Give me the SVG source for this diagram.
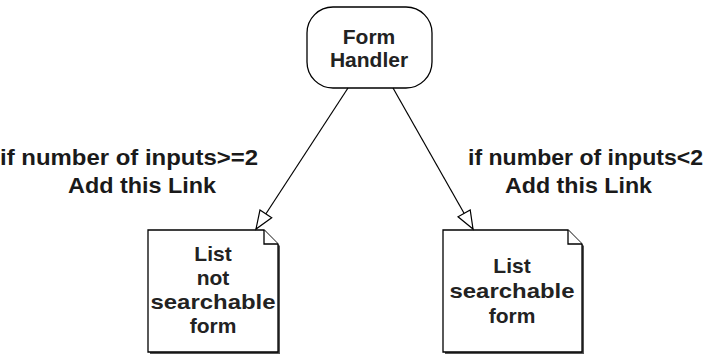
<svg xmlns="http://www.w3.org/2000/svg" width="705" height="354" viewBox="0 0 705 354">
  <style>
    .shape { fill: #ffffff; stroke: #000000; stroke-width: 1.3; }
    .shadow { fill: #555555; }
    .edge { fill: none; stroke: #000000; stroke-width: 1.2; }
    .node-text { font-family: "Liberation Sans", Arial, sans-serif; font-size: 21px; font-weight: bold; fill: #222222; text-anchor: middle; }
    .edge-label { font-family: "Liberation Sans", Arial, sans-serif; font-size: 22px; font-weight: bold; fill: #1a1a1a; }
  </style>
  <defs>
    <marker id="hollow-arrow" markerUnits="userSpaceOnUse" markerWidth="20" markerHeight="16" refX="19" refY="7.5" orient="auto" overflow="visible">
      <path d="M1,0.5 L19,7.5 L1,14.5 Z" fill="#ffffff" stroke="#000000" stroke-width="1.2"/>
    </marker>
  </defs>
  <rect width="705" height="354" fill="#ffffff"/>

  <!-- start node -->
  <g id="form-handler">
    <rect class="shape" x="307" y="7" width="125" height="81" rx="26" ry="26"/>
    <text class="node-text" x="369" y="44">Form</text>
    <text class="node-text" x="369" y="67">Handler</text>
  </g>

  <!-- document nodes (folded top-right corner, thin drop shadow) -->
  <g id="list-not-searchable">
    <path class="shadow" d="M150,232 L266,232 L280,246 L280,354 L150,354 Z"/>
    <path class="shape" d="M148,230 L264,230 L278,244 L278,352 L148,352 Z"/>
    <path class="shape" d="M264,230 L264,244 L278,244"/>
    <text class="node-text" x="213" y="261">List</text>
    <text class="node-text" x="213" y="285">not</text>
    <text class="node-text" x="213" y="309" textLength="125" lengthAdjust="spacingAndGlyphs">searchable</text>
    <text class="node-text" x="213" y="333">form</text>
  </g>

  <g id="list-searchable">
    <path class="shadow" d="M445,232 L570,232 L584,246 L584,354 L445,354 Z"/>
    <path class="shape" d="M443,230 L568,230 L582,244 L582,352 L443,352 Z"/>
    <path class="shape" d="M568,230 L568,244 L582,244"/>
    <text class="node-text" x="512" y="273">List</text>
    <text class="node-text" x="512" y="298" textLength="125" lengthAdjust="spacingAndGlyphs">searchable</text>
    <text class="node-text" x="512" y="323">form</text>
  </g>

  <!-- connectors and their labels -->
  <g id="connectors">
    <path class="edge" d="M348,88 L256,229" marker-end="url(#hollow-arrow)"/>
    <path class="edge" d="M393,88 L473,229" marker-end="url(#hollow-arrow)"/>
    <text class="edge-label" x="0" y="165" textLength="258" lengthAdjust="spacingAndGlyphs">if number of inputs&gt;=2</text>
    <text class="edge-label" x="68" y="193" textLength="148" lengthAdjust="spacingAndGlyphs">Add this Link</text>
    <text class="edge-label" x="468" y="165" textLength="235" lengthAdjust="spacingAndGlyphs">if number of inputs&lt;2</text>
    <text class="edge-label" x="505" y="193" textLength="147" lengthAdjust="spacingAndGlyphs">Add this Link</text>
  </g>
</svg>
